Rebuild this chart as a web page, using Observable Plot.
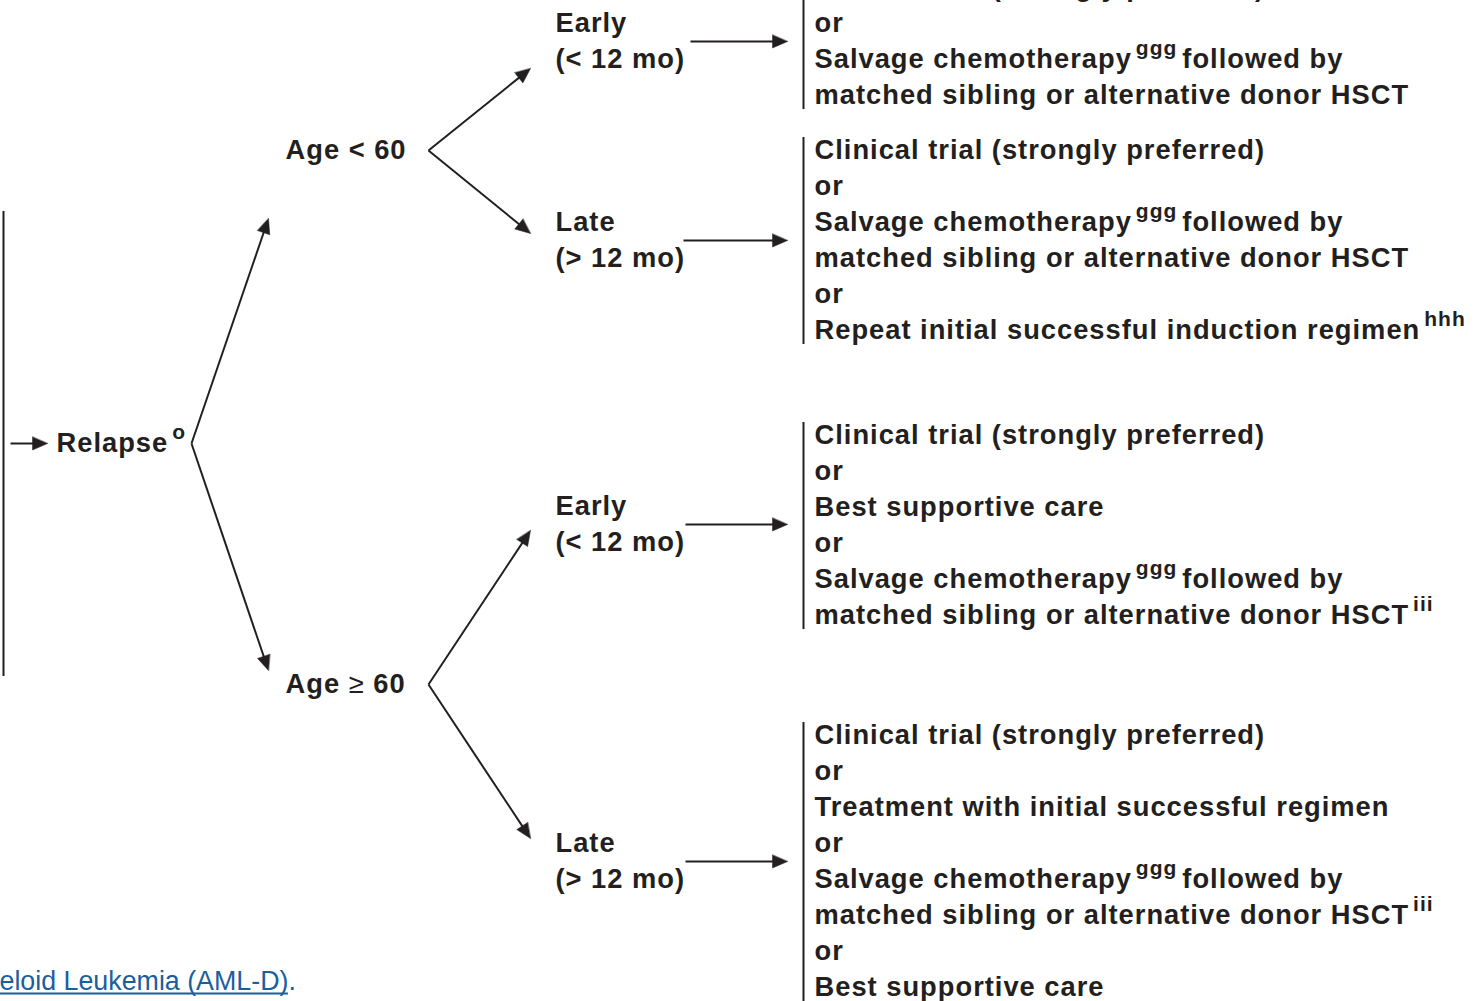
<!DOCTYPE html>
<html><head><meta charset="utf-8">
<script src="https://cdn.jsdelivr.net/npm/d3@7"></script>
<script src="https://cdn.jsdelivr.net/npm/@observablehq/plot@0.6"></script>
<style>html,body{margin:0;padding:0;background:#fff;overflow:hidden}#chart svg{display:block}</style>
</head><body><div id="chart"></div>
<script>
// ---------- content ----------
const relapseLabel = "Relapse^{o}";
const ageLabels = ["Age < 60", "Age _{≥} 60"];
const timingLabels = [
  ["Early", "(< 12 mo)"],
  ["Late", "(> 12 mo)"],
  ["Early", "(< 12 mo)"],
  ["Late", "(> 12 mo)"]
];
const treatUnder60Early = [
  "Clinical trial (strongly preferred)",
  "or",
  "Salvage chemotherapy^{ggg} followed by",
  "matched sibling or alternative donor HSCT"
];
const treatUnder60Late = [
  "Clinical trial (strongly preferred)",
  "or",
  "Salvage chemotherapy^{ggg} followed by",
  "matched sibling or alternative donor HSCT",
  "or",
  "Repeat initial successful induction regimen^{hhh}"
];
const treatOver60Early = [
  "Clinical trial (strongly preferred)",
  "or",
  "Best supportive care",
  "or",
  "Salvage chemotherapy^{ggg} followed by",
  "matched sibling or alternative donor HSCT^{iii}"
];
const treatOver60Late = [
  "Clinical trial (strongly preferred)",
  "or",
  "Treatment with initial successful regimen",
  "or",
  "Salvage chemotherapy^{ggg} followed by",
  "matched sibling or alternative donor HSCT^{iii}",
  "or",
  "Best supportive care"
];
const treatmentBoxes = [treatUnder60Early, treatUnder60Late, treatOver60Early, treatOver60Late];
const footerLink = "eloid Leukemia (AML-D)";
const footerTail = ".";

// ---------- layout ----------
const W = 1482, H = 1001;
const ink = "#231f20", linkBlue = "#1b5e9e";
const FONT = "Liberation Sans";
const FS = 27.3, SUP = 21, LS = 1, LH = 36, SUP_RISE = 11;
const layoutRelapse = {x: 56, y: 443, barX: 3, barY1: 211, barY2: 676, arrowX1: 10, arrowX2: 47, vertexX: 191, tipX: 268, tipY: [218, 670]};
const layoutAge = {x: 285, y: [150, 684], vertexX: 428, tipX: 530, tipY: [[68, 233], [530, 838]]};
const layoutTiming = {x: 555, y: [23, 222, 506, 843], arrowX1: [690, 683, 685, 685], arrowX2: 787};
const layoutBox = {barX: 803, textX: 814, y: [-13, 150, 435, 735]};
const layoutFooter = {x: -1, y: 981, size: 26.8, underlineY: 993};

// ---------- text measurement ----------
const ctx = document.createElement("canvas").getContext("2d");
const fontOf = k => k === "sup" ? `bold ${SUP}px "${FONT}"` : k === "reg" ? `normal ${FS}px "${FONT}"` : `bold ${FS}px "${FONT}"`;
function measure(s, k) { ctx.font = fontOf(k); return ctx.measureText(s).width + s.length * LS; }

function parse(str) {
  const parts = []; const re = /\^\{([^}]*)\}|_\{([^}]*)\}/g; let last = 0, m;
  while ((m = re.exec(str))) {
    if (m.index > last) parts.push({t: str.slice(last, m.index), k: "b"});
    if (m[1] != null) parts.push({t: m[1], k: "sup"}); else parts.push({t: m[2], k: "reg"});
    last = re.lastIndex;
  }
  if (last < str.length) parts.push({t: str.slice(last), k: "b"});
  return parts;
}
const segments = [];
function place(str, x0, y) {
  let x = x0, prev = null;
  for (const p of parse(str)) {
    const lead = p.t.length - p.t.trimStart().length;
    const trail = p.t.length - p.t.trimEnd().length;
    const t = p.t.trim();
    x += lead ? (prev === "sup" ? 5 : lead * measure(" ", p.k)) : 0;
    if (p.k === "sup") x += 4;
    if (t) segments.push({text: t, x, y: p.k === "sup" ? y - SUP_RISE : y, k: p.k});
    x += measure(t, p.k) + trail * measure(" ", p.k);
    prev = p.k;
  }
  return x;
}

// ---------- build geometry ----------
const links = [];   // shafts
const arrows = [];  // connections ending with a filled head
const bars = [];

// Relapse
bars.push({x: layoutRelapse.barX, y1: layoutRelapse.barY1, y2: layoutRelapse.barY2});
arrows.push({x1: layoutRelapse.arrowX1, y1: layoutRelapse.y, x2: layoutRelapse.arrowX2, y2: layoutRelapse.y});
place(relapseLabel, layoutRelapse.x, layoutRelapse.y);
layoutRelapse.tipY.forEach(ty => arrows.push({x1: layoutRelapse.vertexX, y1: layoutRelapse.y, x2: layoutRelapse.tipX, y2: ty}));

// Age groups
ageLabels.forEach((lab, i) => {
  place(lab, layoutAge.x, layoutAge.y[i]);
  layoutAge.tipY[i].forEach(ty => arrows.push({x1: layoutAge.vertexX, y1: layoutAge.y[i], x2: layoutAge.tipX, y2: ty}));
});

// Timing + boxes
timingLabels.forEach((lines, i) => {
  const y0 = layoutTiming.y[i];
  lines.forEach((l, j) => place(l, layoutTiming.x, y0 + j * LH));
  const ym = y0 + (lines.length - 1) * LH / 2;
  arrows.push({x1: layoutTiming.arrowX1[i], y1: ym, x2: layoutTiming.arrowX2, y2: ym});
  const box = treatmentBoxes[i];
  const by = layoutBox.y[i];
  box.forEach((l, j) => place(l, layoutBox.textX, by + j * LH));
  bars.push({x: layoutBox.barX, y1: by - 13, y2: by + (box.length - 1) * LH + 14});
});

// arrowheads
const HL = 15, HW = 6.5;
const heads = [];
arrows.forEach((a, i) => {
  const dx = a.x2 - a.x1, dy = a.y2 - a.y1, len = Math.hypot(dx, dy);
  const ux = dx / len, uy = dy / len, nx = -uy, ny = ux;
  const bx = a.x2 - ux * HL, by = a.y2 - uy * HL;
  heads.push({id: i, x: a.x2, y: a.y2}, {id: i, x: bx + nx * HW, y: by + ny * HW}, {id: i, x: bx - nx * HW, y: by - ny * HW});
  links.push({x1: a.x1, y1: a.y1, x2: bx + ux * 2, y2: by + uy * 2});
});

// footer
ctx.font = `normal ${layoutFooter.size}px "${FONT}"`;
const footerW = ctx.measureText(footerLink).width;

const chart = Plot.plot({
  width: W, height: H, margin: 0,
  x: {domain: [0, W], range: [0, W], axis: null},
  y: {domain: [0, H], range: [0, H], axis: null},
  style: {fontFamily: FONT, background: "#fff", letterSpacing: LS + "px", color: ink},
  marks: [
    Plot.ruleX(bars, {x: "x", y1: "y1", y2: "y2", stroke: ink, strokeWidth: 2}),
    Plot.link(links, {x1: "x1", y1: "y1", x2: "x2", y2: "y2", stroke: ink, strokeWidth: 2}),
    Plot.line(heads, {x: "x", y: "y", z: "id", fill: ink, stroke: ink, strokeWidth: 0.5, curve: "linear-closed"}),
    Plot.text(segments.filter(d => d.k === "b"), {x: "x", y: "y", text: "text", textAnchor: "start", fontSize: FS, fontWeight: "bold", fill: ink}),
    Plot.text(segments.filter(d => d.k === "reg"), {x: "x", y: "y", text: "text", textAnchor: "start", fontSize: FS, fontWeight: "normal", fill: ink}),
    Plot.text(segments.filter(d => d.k === "sup"), {x: "x", y: "y", text: "text", textAnchor: "start", fontSize: SUP, fontWeight: "bold", fill: ink}),
    Plot.text([footerLink], {x: layoutFooter.x, y: layoutFooter.y, text: d => d, textAnchor: "start", fontSize: layoutFooter.size, fill: linkBlue}),
    Plot.text([footerTail], {x: layoutFooter.x + footerW, y: layoutFooter.y, text: d => d, textAnchor: "start", fontSize: layoutFooter.size, fill: linkBlue}),
    Plot.ruleY([layoutFooter.underlineY], {x1: layoutFooter.x, x2: layoutFooter.x + footerW, stroke: linkBlue, strokeWidth: 2})
  ]
});
chart.querySelectorAll(`g[fill="${linkBlue}"]`).forEach(g => g.style.letterSpacing = "0px");
document.getElementById("chart").appendChild(chart);
</script>
</body></html>
